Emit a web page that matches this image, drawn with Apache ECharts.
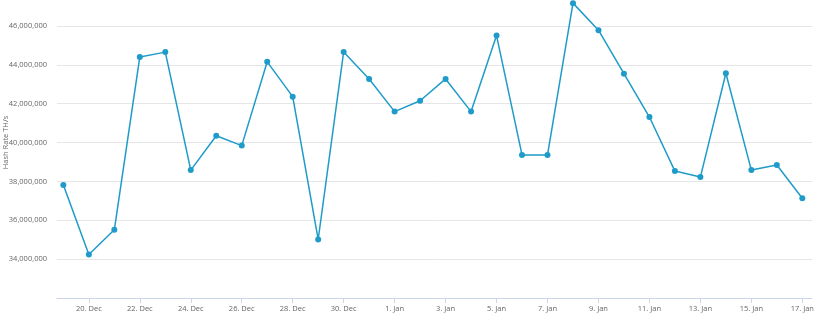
<!DOCTYPE html>
<html><head><meta charset="utf-8">
<script src="https://cdn.jsdelivr.net/npm/echarts@6/dist/echarts.min.js"></script>
<style>html,body{margin:0;padding:0;background:#fff}#c{width:820px;height:320px}</style>
</head><body><div id="c"></div>
<script>
// Dates (day offset from 20 Dec) and labels
const dates = ['19. Dec','20. Dec','21. Dec','22. Dec','23. Dec','24. Dec','25. Dec','26. Dec','27. Dec','28. Dec','29. Dec','30. Dec','31. Dec',
  '1. Jan','2. Jan','3. Jan','4. Jan','5. Jan','6. Jan','7. Jan','8. Jan','9. Jan','10. Jan','11. Jan','12. Jan','13. Jan','14. Jan','15. Jan','16. Jan','17. Jan'];
const hashRate = [37810000,34240000,35510000,44400000,44650000,38580000,40350000,39840000,44150000,42360000,35010000,44660000,43270000,
  41590000,42150000,43270000,41590000,45500000,39360000,39360000,47170000,45780000,43540000,41310000,38530000,38220000,43560000,38580000,38840000,37130000];
const tickLabels = ['20. Dec','22. Dec','24. Dec','26. Dec','28. Dec','30. Dec','1. Jan','3. Jan','5. Jan','7. Jan','9. Jan','11. Jan','13. Jan','15. Jan','17. Jan'];
const yTicks = [34000000,36000000,38000000,40000000,42000000,44000000,46000000];

const dayIndex = dates.map((d,i)=>i-1);
const tickDays = tickLabels.map(l=>dates.indexOf(l)-1);
const font = '"Open Sans", sans-serif';
const chart = echarts.init(document.getElementById('c'), null, {renderer:'canvas'});
chart.setOption({
  animation:false,
  grid:{left:57, right:8, top:-13, bottom:22, containLabel:false, outerBoundsMode:'none'},
  xAxis:{
    type:'value', min:-1.25, max:28.38,
    axisLine:{show:true, lineStyle:{color:'#ccd6eb', width:1}},
    axisTick:{show:true, customValues:tickDays, length:5, lineStyle:{color:'#ccd6eb'}},
    axisLabel:{customValues:tickDays, color:'#666', fontSize:7.5, fontFamily:font, margin:7,
      formatter:(v)=>{const i=tickDays.indexOf(Math.round(v)); return i>=0?tickLabels[i]:'';}},
    splitLine:{show:false}
  },
  yAxis:{
    type:'value', min:32000000, max:48000000, interval:2000000,
    name:'Hash Rate TH/s', nameLocation:'middle', nameGap:47, nameRotate:90, nameMoveOverlap:false,
    nameTextStyle:{color:'#666', fontSize:7.5, fontFamily:font},
    axisLine:{show:false}, axisTick:{show:false},
    axisLabel:{color:'#666', fontSize:7.5, fontFamily:font, margin:10,
      formatter:(v)=> yTicks.includes(v) ? v.toLocaleString('en-US') : ''},
    splitLine:{show:true, lineStyle:{color:'#e6e6e6', width:1}}
  },
  series:[{
    type:'line',
    data:dayIndex.map((d,i)=>[d,hashRate[i]]),
    symbol:'circle', symbolSize:6,
    itemStyle:{color:'#1f9bc9'},
    lineStyle:{color:'#1f9bc9', width:1.5},
    clip:false
  }]
});
</script></body></html>
